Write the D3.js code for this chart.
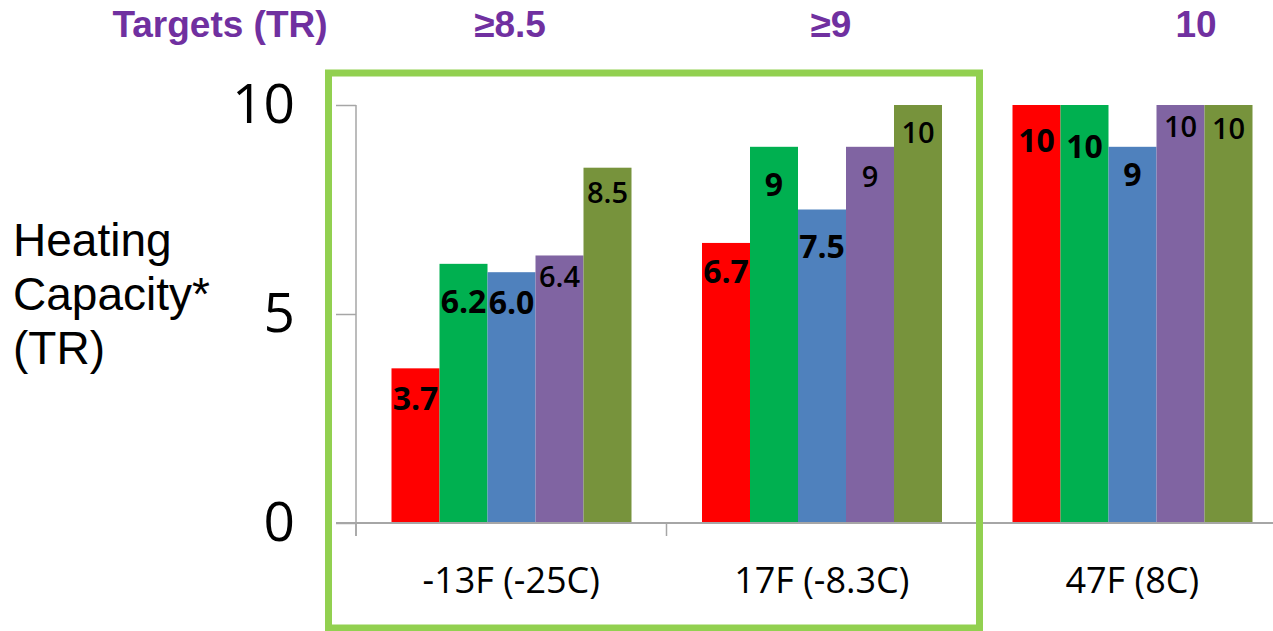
<!DOCTYPE html>
<html>
<head>
  <meta charset="UTF-8">
  <style>
    body {
      margin: 0;
      background: #ffffff;
      font-family: "Open Sans", sans-serif;
    }
    svg { display: block; }
    .target { font-family: "Liberation Sans", Arial, sans-serif; font-weight: bold; fill: #7030a0; font-size: 37px; }
    .ylabel { font-family: "Liberation Sans", Arial, sans-serif; font-size: 46px; fill: #000; }
  </style>
</head>
<body>
  <svg></svg>
  <script src="https://d3js.org/d3.v7.min.js"></script>
  <script>
    let width = 1273, height = 631;

    // data
    let categories = ["-13F (-25C)", "17F (-8.3C)", "47F (8C)"];
    let seriesNames = ["Series 1", "Series 2", "Series 3", "Series 4", "Series 5"];
    let seriesColors = ["#ff0000", "#00b050", "#4f81bd", "#8064a2", "#77933c"];
    let values = [
      [3.7, 6.2, 6.0, 6.4, 8.5],
      [6.7, 9, 7.5, 9, 10],
      [10, 10, 9, 10, 10]
    ];
    let valueLabels = [
      ["3.7", "6.2", "6.0", "6.4", "8.5"],
      ["6.7", "9", "7.5", "9", "10"],
      ["10", "10", "9", "10", "10"]
    ];
    let yTicks = [0, 5, 10];
    let targetTitle = "Targets (TR)";
    let targets = ["≥8.5", "≥9", "10"];

    // label drop below bar top (as in the original slide)
    let labelDrop = [
      [29, 37, 29, 20, 24],
      [28, 37, 36, 29, 26],
      [34, 40, 27, 20, 22]
    ];

    let svg = d3.select("svg").attr("width", width).attr("height", height);

    let x = d3.scaleBand().domain(categories).range([356, 356 + 310.5 * 3]);
    let x1 = d3.scaleBand().domain(seriesNames).range([35.5, 275.5]);
    let y = d3.scaleLinear().domain([0, 10]).range([523, 105]);

    let rows = [];
    categories.forEach((c, i) => {
      seriesNames.forEach((s, j) => {
        rows.push({ cat: c, ser: s, si: j, ci: i, v: values[i][j], label: valueLabels[i][j], drop: labelDrop[i][j] });
      });
    });

    // bars
    svg.append("g")
      .selectAll("rect")
      .data(rows)
      .enter()
      .append("rect")
      .attr("x", d => x(d.cat) + x1(d.ser))
      .attr("y", d => y(d.v))
      .attr("width", x1.bandwidth())
      .attr("height", d => y(0) - y(d.v))
      .attr("fill", d => seriesColors[d.si]);

    // value labels
    svg.append("g")
      .selectAll("text")
      .data(rows)
      .enter()
      .append("text")
      .attr("x", d => x(d.cat) + x1(d.ser) + x1.bandwidth() / 2)
      .attr("y", d => y(d.v) + d.drop)
      .attr("text-anchor", "middle")
      .attr("dominant-baseline", "central")
      .style("font-family", "'Open Sans', sans-serif")
      .style("font-weight", d => d.si >= 3 ? 600 : 700)
      .style("font-size", d => d.si >= 3 ? "29px" : "32px")
      .text(d => d.label);

    // y axis
    let yAxis = d3.axisLeft(y)
      .tickValues(yTicks)
      .tickSize(20)
      .tickPadding(41)
      .tickFormat(d3.format("d"));

    let yg = svg.append("g")
      .attr("transform", "translate(356,0)")
      .call(yAxis);
    yg.select(".domain").remove();
    yg.selectAll(".tick line").attr("stroke", "#a6a6a6").attr("stroke-width", 1.5);
    yg.selectAll(".tick text")
      .style("font-family", "'Open Sans', sans-serif")
      .style("font-size", "55px")
      .attr("fill", "#000");

    svg.append("line")
      .attr("x1", 356).attr("x2", 356)
      .attr("y1", y(10)).attr("y2", y(0) + 13)
      .attr("stroke", "#a6a6a6").attr("stroke-width", 1.5);

    // baseline and category separators
    svg.append("line")
      .attr("x1", 336).attr("x2", width)
      .attr("y1", y(0)).attr("y2", y(0))
      .attr("stroke", "#a6a6a6").attr("stroke-width", 2);

    svg.append("g")
      .selectAll("line")
      .data(categories)
      .enter()
      .append("line")
      .attr("x1", d => x(d)).attr("x2", d => x(d))
      .attr("y1", y(0)).attr("y2", y(0) + 13)
      .attr("stroke", "#a6a6a6").attr("stroke-width", 1.5);

    svg.append("g")
      .selectAll("text")
      .data(categories)
      .enter()
      .append("text")
      .attr("x", d => x(d) + x.bandwidth() / 2)
      .attr("y", 593)
      .attr("text-anchor", "middle")
      .style("font-family", "'Open Sans', sans-serif")
      .style("font-size", "36px")
      .text(d => d);

    // y title
    let yt = svg.append("text").attr("class", "ylabel").attr("x", 13).attr("y", 256);
    ["Heating", "Capacity*", "(TR)"].forEach((t, i) => {
      yt.append("tspan").attr("x", 13).attr("dy", i === 0 ? 0 : 54).text(t);
    });

    // targets row
    svg.append("text").attr("class", "target").attr("x", 220).attr("y", 37)
      .attr("text-anchor", "middle").text(targetTitle);
    let targetX = [510, 831, 1196];
    svg.append("g")
      .selectAll("text")
      .data(targets)
      .enter()
      .append("text")
      .attr("class", "target")
      .attr("x", (d, i) => targetX[i])
      .attr("y", 37)
      .attr("text-anchor", "middle")
      .text(d => d);

    // highlight box
    svg.append("rect")
      .attr("x", 328.5).attr("y", 73)
      .attr("width", 651).attr("height", 555)
      .attr("fill", "none")
      .attr("stroke", "#92d050")
      .attr("stroke-width", 7);
  </script>
</body>
</html>
